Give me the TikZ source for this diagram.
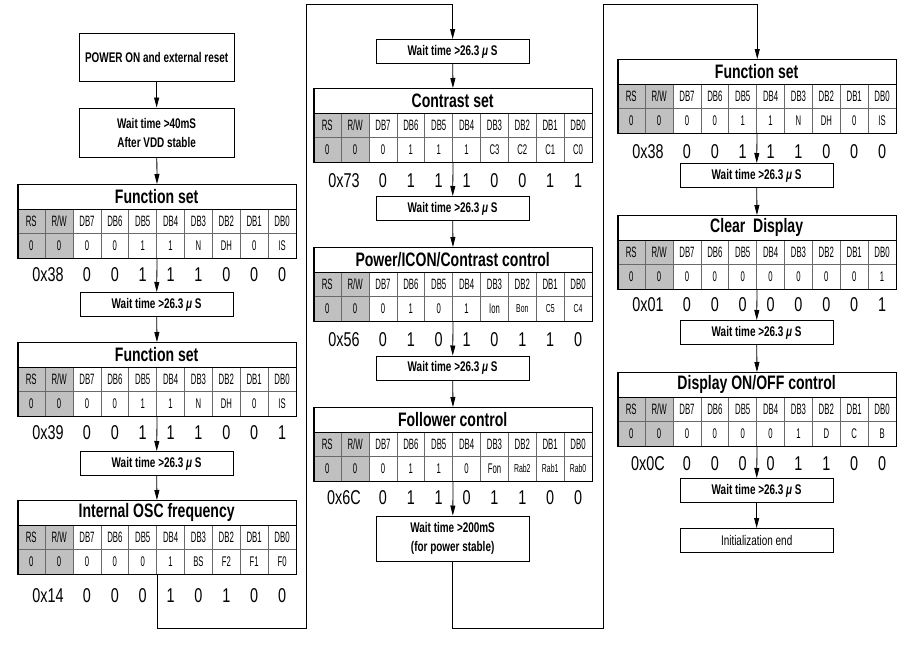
\documentclass[tikz,border=0pt]{standalone}
\usepackage{fontspec}
\setmainfont{Liberation Sans}
\newfontfamily\bxfont{Liberation Sans}[FakeStretch=0.71]
\newfontfamily\ttlfont{Liberation Sans}[FakeStretch=0.72]
\newfontfamily\hdfont{Liberation Sans}[FakeStretch=0.52]
\newfontfamily\vlfont{Liberation Sans}[FakeStretch=0.55]
\newfontfamily\smfont{Liberation Sans}[FakeStretch=0.6]
\newfontfamily\hxfont{Liberation Sans}[FakeStretch=0.72]
\usetikzlibrary{arrows.meta}
\definecolor{cellgray}{RGB}{192,192,192}
\definecolor{gridgray}{RGB}{105,105,105}
\newcommand{\sm}[1]{{\smfont\fontsize{11.5}{12}\selectfont #1}}
\newcommand{\mus}{{\itshape μ}}
\def\cw{27.87}
\tikzset{
  waitbox/.style={draw, line width=1pt, fill=white, minimum width=153, minimum height=24, inner sep=0pt, align=center,
    font={\bxfont\bfseries\fontsize{14}{19}\selectfont}},
  plainbox/.style={waitbox, font={\bxfont\fontsize{14}{19}\selectfont}},
  tablebox/.style={draw, line width=1.2pt, minimum width=278.7, minimum height=74, inner sep=0pt, anchor=north west},
  gridline/.style={draw=gridgray, line width=0.6pt},
  titletext/.style={inner sep=0pt, font={\ttlfont\bfseries\fontsize{19.5}{21}\selectfont}},
  hdtext/.style={inner sep=0pt, font={\hdfont\fontsize{15}{16}\selectfont}},
  vltext/.style={inner sep=0pt, font={\vlfont\fontsize{14}{15}\selectfont}},
  hextext/.style={inner sep=0pt, font={\hxfont\fontsize{20}{22}\selectfont}},
  arr/.style={line width=0.8pt, -{Triangle[length=10pt,width=5pt]}},
  conn/.style={line width=0.8pt}
}
% #1 name, #2 x0, #3 ytop, #4 title, #5 values DB7..DB0, #6 hex, #7 digits, #8 hex offset
\newcommand{\cmdtable}[8]{%
  \fill[cellgray] ({#2},{#3+25}) rectangle ({#2+2*\cw},{#3+74});
  \foreach \i in {1,...,9} \draw[gridline] ({#2+\i*\cw},{#3+25}) -- ({#2+\i*\cw},{#3+74});
  \draw[gridline] ({#2},{#3+49}) -- ({#2+10*\cw},{#3+49});
  \draw[line width=1pt] ({#2},{#3+25}) -- ({#2+10*\cw},{#3+25});
  \node[tablebox] (#1) at ({#2},{#3}) {};
  \node[titletext] (#1-t) at ({#2+5*\cw},{#3+12.5}) {#4};
  \foreach \h [count=\k] in {RS,R/W,DB7,DB6,DB5,DB4,DB3,DB2,DB1,DB0}
    \node[hdtext] (#1-h\k) at ({#2+(\k-0.5)*\cw},{#3+37}) {\h};
  \foreach \v [count=\k] in {0,0,#5}
    \node[vltext] (#1-v\k) at ({#2+(\k-0.5)*\cw},{#3+61.5}) {\v};
  \node[hextext] (#1-x) at ({#2+1.1*\cw},{#3+74+#8}) {#6};
  \foreach \d [count=\k] in {#7}
    \node[hextext] (#1-d\k) at ({#2+(\k+1.5)*\cw},{#3+74+#8}) {\d};
}
\begin{document}
\begin{tikzpicture}[x=1pt,y=-1pt]
\fill[white] (0,0) rectangle (910,653);
\useasboundingbox (0,0) rectangle (910,653);

% ---------- column 1 ----------
\node[waitbox, minimum width=155, minimum height=48] (pon) at (156.65,57) {POWER ON and external reset};
\node[waitbox, minimum width=155, minimum height=49] (w40) at (156.65,132.5) {Wait time >40mS\\After VDD stable};
\cmdtable{a1}{17.3}{184}{Function set}{0,0,1,1,N,DH,0,IS}{0x38}{0,0,1,1,1,0,0,0}{17}
\node[waitbox] (aw1) at (156.65,304.5) {Wait time >26.3 \mus\ S};
\cmdtable{a2}{17.3}{342}{Function set}{0,0,1,1,N,DH,0,IS}{0x39}{0,0,1,1,1,0,0,1}{17}
\node[waitbox] (aw2) at (156.65,463.5) {Wait time >26.3 \mus\ S};
\cmdtable{a3}{17.3}{500}{Internal OSC frequency}{0,0,0,1,BS,F2,F1,F0}{0x14}{0,0,0,1,0,1,0,0}{22}

% ---------- column 2 ----------
\node[waitbox] (bw0) at (452.65,51.5) {Wait time >26.3 \mus\ S};
\cmdtable{b1}{313.3}{88}{Contrast set}{0,1,1,1,C3,C2,C1,C0}{0x73}{0,1,1,1,0,0,1,1}{19}
\node[waitbox] (bw1) at (452.65,208.5) {Wait time >26.3 \mus\ S};
\cmdtable{b2}{313.3}{247}{Power/ICON/Contrast control}{0,1,0,1,Ion,\sm{Bon},\sm{C5},\sm{C4}}{0x56}{0,1,0,1,0,1,1,0}{19}
\node[waitbox] (bw2) at (452.65,368) {Wait time >26.3 \mus\ S};
\cmdtable{b3}{313.3}{407}{Follower control}{0,1,1,0,Fon,\sm{Rab2},\sm{Rab1},\sm{Rab0}}{0x6C}{0,1,1,0,1,1,0,0}{17}
\node[waitbox, minimum height=45] (bw3) at (452.65,538.5) {Wait time >200mS\\(for power stable)};

% ---------- column 3 ----------
\cmdtable{c1}{617.3}{59}{Function set}{0,0,1,1,N,DH,0,IS}{0x38}{0,0,1,1,1,0,0,0}{18.5}
\node[waitbox] (cw1) at (756.65,175.5) {Wait time >26.3 \mus\ S};
\cmdtable{c2}{617.3}{215}{Clear~ Display}{0,0,0,0,0,0,0,1}{0x01}{0,0,0,0,0,0,0,1}{16}
\node[waitbox] (cw2) at (756.65,332.5) {Wait time >26.3 \mus\ S};
\cmdtable{c3}{617.3}{372}{Display ON/OFF control}{0,0,0,0,1,D,C,B}{0x0C}{0,0,0,0,1,1,0,0}{18}
\node[waitbox] (cw3) at (756.65,490.5) {Wait time >26.3 \mus\ S};
\node[plainbox] (cend) at (756.65,540.5) {Initialization end};

% ---------- connectors ----------
\coordinate (k1) at (306.7,628);
\coordinate (k2) at (306.7,4);
\coordinate (k3) at (603.3,628);
\coordinate (k4) at (603.3,4);

\draw[arr] (pon) -- (w40);
\draw[arr] (w40) -- (a1);
\draw[arr] (a1) -- (aw1);
\draw[arr] (aw1) -- (a2);
\draw[arr] (a2) -- (aw2);
\draw[arr] (aw2) -- (a3);
\draw[arr] (a3.south) |- (k1) -- (k2) -| (bw0.north);

\draw[arr] (bw0) -- (b1);
\draw[arr] (b1) -- (bw1);
\draw[arr] (bw1) -- (b2);
\draw[arr] (b2) -- (bw2);
\draw[arr] (bw2) -- (b3);
\draw[arr] (b3) -- (bw3);
\draw[arr] (bw3.south) |- (k3) -- (k4) -| (c1.north);

\draw[arr] (c1) -- (cw1);
\draw[arr] (cw1) -- (c2);
\draw[arr] (c2) -- (cw2);
\draw[arr] (cw2) -- (c3);
\draw[arr] (c3) -- (cw3);
\draw[arr] (cw3) -- (cend);
\end{tikzpicture}
\end{document}
